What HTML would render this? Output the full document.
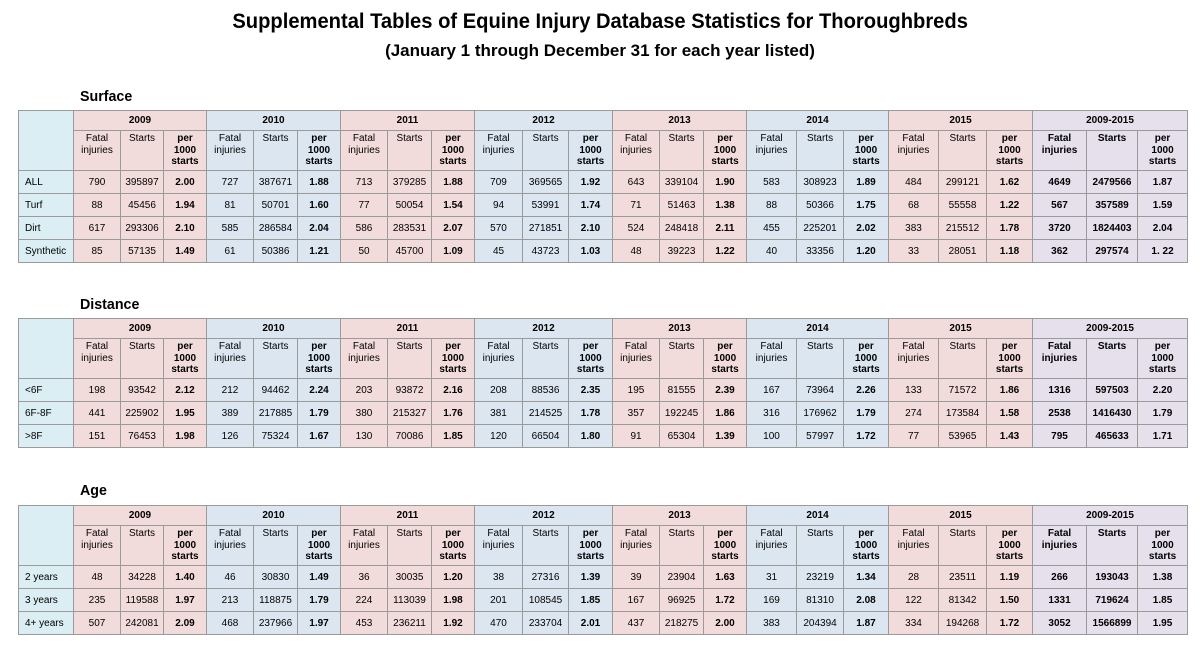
<!DOCTYPE html>
<html><head><meta charset="utf-8"><style>
body{margin:0;width:1200px;height:649px;background:#fff;font-family:"Liberation Sans",sans-serif;position:relative;overflow:hidden;color:#000}
.t1{position:absolute;left:0;width:1200px;top:10px;text-align:center;font-weight:bold;font-size:21px}
.t1 span,.t2 span,.h span{display:inline-block;white-space:nowrap}
.t1 span{transform:scaleX(0.96)}
.t2 span{transform:scaleX(1.0)}
.t2{position:absolute;left:0;width:1200px;top:41px;text-align:center;font-weight:bold;font-size:17px}
.h{position:absolute;left:80px;font-weight:bold;font-size:15px}
.h span{transform-origin:left;transform:scaleX(0.95)}
table{position:absolute;left:18px;border-collapse:collapse;table-layout:fixed;width:1169px;font-size:10px;border:1.5px solid #777}
td{border:1px solid #9a9a9a;text-align:center;padding:0;overflow:hidden;white-space:nowrap}
tr.y td{height:19px;font-weight:bold;font-size:10px}
tr.s td{height:37px;vertical-align:top;line-height:11.5px;padding-top:2px}
tr.d td{height:22px}
td.c{background:#daeef3;text-align:left;padding-left:6px}
.p{background:#f2dcdb}.b{background:#dce6f1}.v{background:#e5e0ec}
.k{font-weight:bold}
</style></head><body>
<div class="t1"><span>Supplemental Tables of Equine Injury Database Statistics for Thoroughbreds</span></div>
<div class="t2"><span>(January 1 through December 31 for each year listed)</span></div>

<div class="h" style="top:88px"><span>Surface</span></div>
<table style="top:110px">
<colgroup><col style="width:55px"><col style="width:47px"><col style="width:43px"><col style="width:43px"><col style="width:47px"><col style="width:44px"><col style="width:43px"><col style="width:47px"><col style="width:44px"><col style="width:43px"><col style="width:48px"><col style="width:46px"><col style="width:44px"><col style="width:47px"><col style="width:44px"><col style="width:43px"><col style="width:50px"><col style="width:47px"><col style="width:45px"><col style="width:50px"><col style="width:48px"><col style="width:46px"><col style="width:54px"><col style="width:51px"><col style="width:50px"></colgroup>
<tr class="y"><td class="c" rowspan="2"></td><td class="p" colspan="3">2009</td><td class="b" colspan="3">2010</td><td class="p" colspan="3">2011</td><td class="b" colspan="3">2012</td><td class="p" colspan="3">2013</td><td class="b" colspan="3">2014</td><td class="p" colspan="3">2015</td><td class="v" colspan="3">2009-2015</td></tr>
<tr class="s"><td class="p">Fatal<br>injuries</td><td class="p">Starts</td><td class="p k">per<br>1000<br>starts</td><td class="b">Fatal<br>injuries</td><td class="b">Starts</td><td class="b k">per<br>1000<br>starts</td><td class="p">Fatal<br>injuries</td><td class="p">Starts</td><td class="p k">per<br>1000<br>starts</td><td class="b">Fatal<br>injuries</td><td class="b">Starts</td><td class="b k">per<br>1000<br>starts</td><td class="p">Fatal<br>injuries</td><td class="p">Starts</td><td class="p k">per<br>1000<br>starts</td><td class="b">Fatal<br>injuries</td><td class="b">Starts</td><td class="b k">per<br>1000<br>starts</td><td class="p">Fatal<br>injuries</td><td class="p">Starts</td><td class="p k">per<br>1000<br>starts</td><td class="v k">Fatal<br>injuries</td><td class="v k">Starts</td><td class="v k">per<br>1000<br>starts</td></tr>
<tr class="d"><td class="c">ALL</td><td class="p">790</td><td class="p">395897</td><td class="p k">2.00</td><td class="b">727</td><td class="b">387671</td><td class="b k">1.88</td><td class="p">713</td><td class="p">379285</td><td class="p k">1.88</td><td class="b">709</td><td class="b">369565</td><td class="b k">1.92</td><td class="p">643</td><td class="p">339104</td><td class="p k">1.90</td><td class="b">583</td><td class="b">308923</td><td class="b k">1.89</td><td class="p">484</td><td class="p">299121</td><td class="p k">1.62</td><td class="v k">4649</td><td class="v k">2479566</td><td class="v k">1.87</td></tr>
<tr class="d"><td class="c">Turf</td><td class="p">88</td><td class="p">45456</td><td class="p k">1.94</td><td class="b">81</td><td class="b">50701</td><td class="b k">1.60</td><td class="p">77</td><td class="p">50054</td><td class="p k">1.54</td><td class="b">94</td><td class="b">53991</td><td class="b k">1.74</td><td class="p">71</td><td class="p">51463</td><td class="p k">1.38</td><td class="b">88</td><td class="b">50366</td><td class="b k">1.75</td><td class="p">68</td><td class="p">55558</td><td class="p k">1.22</td><td class="v k">567</td><td class="v k">357589</td><td class="v k">1.59</td></tr>
<tr class="d"><td class="c">Dirt</td><td class="p">617</td><td class="p">293306</td><td class="p k">2.10</td><td class="b">585</td><td class="b">286584</td><td class="b k">2.04</td><td class="p">586</td><td class="p">283531</td><td class="p k">2.07</td><td class="b">570</td><td class="b">271851</td><td class="b k">2.10</td><td class="p">524</td><td class="p">248418</td><td class="p k">2.11</td><td class="b">455</td><td class="b">225201</td><td class="b k">2.02</td><td class="p">383</td><td class="p">215512</td><td class="p k">1.78</td><td class="v k">3720</td><td class="v k">1824403</td><td class="v k">2.04</td></tr>
<tr class="d"><td class="c">Synthetic</td><td class="p">85</td><td class="p">57135</td><td class="p k">1.49</td><td class="b">61</td><td class="b">50386</td><td class="b k">1.21</td><td class="p">50</td><td class="p">45700</td><td class="p k">1.09</td><td class="b">45</td><td class="b">43723</td><td class="b k">1.03</td><td class="p">48</td><td class="p">39223</td><td class="p k">1.22</td><td class="b">40</td><td class="b">33356</td><td class="b k">1.20</td><td class="p">33</td><td class="p">28051</td><td class="p k">1.18</td><td class="v k">362</td><td class="v k">297574</td><td class="v k">1. 22</td></tr>
</table>

<div class="h" style="top:296px"><span>Distance</span></div>
<table style="top:318px">
<colgroup><col style="width:55px"><col style="width:47px"><col style="width:43px"><col style="width:43px"><col style="width:47px"><col style="width:44px"><col style="width:43px"><col style="width:47px"><col style="width:44px"><col style="width:43px"><col style="width:48px"><col style="width:46px"><col style="width:44px"><col style="width:47px"><col style="width:44px"><col style="width:43px"><col style="width:50px"><col style="width:47px"><col style="width:45px"><col style="width:50px"><col style="width:48px"><col style="width:46px"><col style="width:54px"><col style="width:51px"><col style="width:50px"></colgroup>
<tr class="y"><td class="c" rowspan="2"></td><td class="p" colspan="3">2009</td><td class="b" colspan="3">2010</td><td class="p" colspan="3">2011</td><td class="b" colspan="3">2012</td><td class="p" colspan="3">2013</td><td class="b" colspan="3">2014</td><td class="p" colspan="3">2015</td><td class="v" colspan="3">2009-2015</td></tr>
<tr class="s"><td class="p">Fatal<br>injuries</td><td class="p">Starts</td><td class="p k">per<br>1000<br>starts</td><td class="b">Fatal<br>injuries</td><td class="b">Starts</td><td class="b k">per<br>1000<br>starts</td><td class="p">Fatal<br>injuries</td><td class="p">Starts</td><td class="p k">per<br>1000<br>starts</td><td class="b">Fatal<br>injuries</td><td class="b">Starts</td><td class="b k">per<br>1000<br>starts</td><td class="p">Fatal<br>injuries</td><td class="p">Starts</td><td class="p k">per<br>1000<br>starts</td><td class="b">Fatal<br>injuries</td><td class="b">Starts</td><td class="b k">per<br>1000<br>starts</td><td class="p">Fatal<br>injuries</td><td class="p">Starts</td><td class="p k">per<br>1000<br>starts</td><td class="v k">Fatal<br>injuries</td><td class="v k">Starts</td><td class="v k">per<br>1000<br>starts</td></tr>
<tr class="d"><td class="c">&lt;6F</td><td class="p">198</td><td class="p">93542</td><td class="p k">2.12</td><td class="b">212</td><td class="b">94462</td><td class="b k">2.24</td><td class="p">203</td><td class="p">93872</td><td class="p k">2.16</td><td class="b">208</td><td class="b">88536</td><td class="b k">2.35</td><td class="p">195</td><td class="p">81555</td><td class="p k">2.39</td><td class="b">167</td><td class="b">73964</td><td class="b k">2.26</td><td class="p">133</td><td class="p">71572</td><td class="p k">1.86</td><td class="v k">1316</td><td class="v k">597503</td><td class="v k">2.20</td></tr>
<tr class="d"><td class="c">6F-8F</td><td class="p">441</td><td class="p">225902</td><td class="p k">1.95</td><td class="b">389</td><td class="b">217885</td><td class="b k">1.79</td><td class="p">380</td><td class="p">215327</td><td class="p k">1.76</td><td class="b">381</td><td class="b">214525</td><td class="b k">1.78</td><td class="p">357</td><td class="p">192245</td><td class="p k">1.86</td><td class="b">316</td><td class="b">176962</td><td class="b k">1.79</td><td class="p">274</td><td class="p">173584</td><td class="p k">1.58</td><td class="v k">2538</td><td class="v k">1416430</td><td class="v k">1.79</td></tr>
<tr class="d"><td class="c">&gt;8F</td><td class="p">151</td><td class="p">76453</td><td class="p k">1.98</td><td class="b">126</td><td class="b">75324</td><td class="b k">1.67</td><td class="p">130</td><td class="p">70086</td><td class="p k">1.85</td><td class="b">120</td><td class="b">66504</td><td class="b k">1.80</td><td class="p">91</td><td class="p">65304</td><td class="p k">1.39</td><td class="b">100</td><td class="b">57997</td><td class="b k">1.72</td><td class="p">77</td><td class="p">53965</td><td class="p k">1.43</td><td class="v k">795</td><td class="v k">465633</td><td class="v k">1.71</td></tr>
</table>

<div class="h" style="top:482px"><span>Age</span></div>
<table style="top:505px">
<colgroup><col style="width:55px"><col style="width:47px"><col style="width:43px"><col style="width:43px"><col style="width:47px"><col style="width:44px"><col style="width:43px"><col style="width:47px"><col style="width:44px"><col style="width:43px"><col style="width:48px"><col style="width:46px"><col style="width:44px"><col style="width:47px"><col style="width:44px"><col style="width:43px"><col style="width:50px"><col style="width:47px"><col style="width:45px"><col style="width:50px"><col style="width:48px"><col style="width:46px"><col style="width:54px"><col style="width:51px"><col style="width:50px"></colgroup>
<tr class="y"><td class="c" rowspan="2"></td><td class="p" colspan="3">2009</td><td class="b" colspan="3">2010</td><td class="p" colspan="3">2011</td><td class="b" colspan="3">2012</td><td class="p" colspan="3">2013</td><td class="b" colspan="3">2014</td><td class="p" colspan="3">2015</td><td class="v" colspan="3">2009-2015</td></tr>
<tr class="s"><td class="p">Fatal<br>injuries</td><td class="p">Starts</td><td class="p k">per<br>1000<br>starts</td><td class="b">Fatal<br>injuries</td><td class="b">Starts</td><td class="b k">per<br>1000<br>starts</td><td class="p">Fatal<br>injuries</td><td class="p">Starts</td><td class="p k">per<br>1000<br>starts</td><td class="b">Fatal<br>injuries</td><td class="b">Starts</td><td class="b k">per<br>1000<br>starts</td><td class="p">Fatal<br>injuries</td><td class="p">Starts</td><td class="p k">per<br>1000<br>starts</td><td class="b">Fatal<br>injuries</td><td class="b">Starts</td><td class="b k">per<br>1000<br>starts</td><td class="p">Fatal<br>injuries</td><td class="p">Starts</td><td class="p k">per<br>1000<br>starts</td><td class="v k">Fatal<br>injuries</td><td class="v k">Starts</td><td class="v k">per<br>1000<br>starts</td></tr>
<tr class="d"><td class="c">2 years</td><td class="p">48</td><td class="p">34228</td><td class="p k">1.40</td><td class="b">46</td><td class="b">30830</td><td class="b k">1.49</td><td class="p">36</td><td class="p">30035</td><td class="p k">1.20</td><td class="b">38</td><td class="b">27316</td><td class="b k">1.39</td><td class="p">39</td><td class="p">23904</td><td class="p k">1.63</td><td class="b">31</td><td class="b">23219</td><td class="b k">1.34</td><td class="p">28</td><td class="p">23511</td><td class="p k">1.19</td><td class="v k">266</td><td class="v k">193043</td><td class="v k">1.38</td></tr>
<tr class="d"><td class="c">3 years</td><td class="p">235</td><td class="p">119588</td><td class="p k">1.97</td><td class="b">213</td><td class="b">118875</td><td class="b k">1.79</td><td class="p">224</td><td class="p">113039</td><td class="p k">1.98</td><td class="b">201</td><td class="b">108545</td><td class="b k">1.85</td><td class="p">167</td><td class="p">96925</td><td class="p k">1.72</td><td class="b">169</td><td class="b">81310</td><td class="b k">2.08</td><td class="p">122</td><td class="p">81342</td><td class="p k">1.50</td><td class="v k">1331</td><td class="v k">719624</td><td class="v k">1.85</td></tr>
<tr class="d"><td class="c">4+ years</td><td class="p">507</td><td class="p">242081</td><td class="p k">2.09</td><td class="b">468</td><td class="b">237966</td><td class="b k">1.97</td><td class="p">453</td><td class="p">236211</td><td class="p k">1.92</td><td class="b">470</td><td class="b">233704</td><td class="b k">2.01</td><td class="p">437</td><td class="p">218275</td><td class="p k">2.00</td><td class="b">383</td><td class="b">204394</td><td class="b k">1.87</td><td class="p">334</td><td class="p">194268</td><td class="p k">1.72</td><td class="v k">3052</td><td class="v k">1566899</td><td class="v k">1.95</td></tr>
</table>
</body></html>
